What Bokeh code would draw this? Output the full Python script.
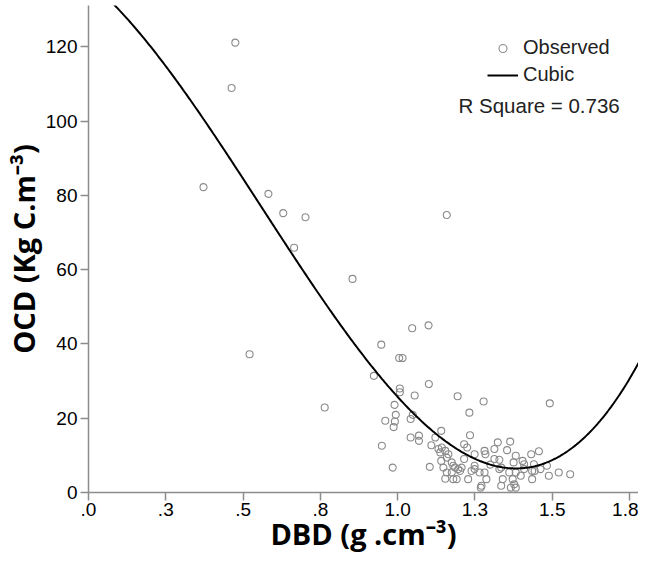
import numpy as np
from bokeh.plotting import figure
from bokeh.models import Range1d, FixedTicker, Legend, LegendItem, Label
from bokeh.embed import file_html
from bokeh.resources import INLINE

# Observed data (DBD g/cm3, OCD Kg C/m3)
dbd = [0.372, 0.463, 0.475, 0.521, 0.582, 0.630, 0.665, 0.702, 0.764, 0.854, 1.159,
       0.923, 0.947, 0.949, 0.960, 0.984, 0.987, 0.990, 0.991, 0.994, 1.005, 1.016,
       1.007, 1.007, 1.042, 1.042, 1.047, 1.100, 1.049, 1.055, 1.069, 1.069, 1.101,
       1.104, 1.109, 1.122, 1.141, 1.132, 1.138, 1.154, 1.164, 1.141, 1.148, 1.159,
       1.154, 1.180, 1.175, 1.180, 1.159, 1.175, 1.186, 1.196, 1.202, 1.191, 1.194,
       1.278, 1.232, 1.492, 1.234, 1.215, 1.225, 1.324, 1.364, 1.281, 1.284, 1.249,
       1.313, 1.354, 1.382, 1.432, 1.457, 1.329, 1.404, 1.409, 1.375, 1.228, 1.239,
       1.249, 1.265, 1.281, 1.287, 1.271, 1.329, 1.340, 1.335, 1.361, 1.372, 1.377,
       1.382, 1.398, 1.435, 1.441, 1.462, 1.483, 1.489, 1.521, 1.558, 1.435, 1.366,
       1.382, 1.269, 1.207, 1.249, 1.313, 1.335, 1.409, 1.443, 1.143, 1.215, 1.300]
ocd = [82.2, 108.9, 121.1, 37.2, 80.4, 75.2, 65.9, 74.1, 22.9, 57.5, 74.7,
       31.4, 39.8, 12.6, 19.3, 6.7, 17.6, 23.6, 19.1, 20.9, 36.2, 36.2,
       28.0, 27.0, 19.8, 14.8, 44.2, 45.0, 20.9, 26.1, 15.3, 13.9, 29.2,
       6.9, 12.7, 14.8, 16.6, 11.7, 10.8, 11.2, 10.3, 8.5, 6.7, 5.4,
       3.7, 7.2, 5.4, 3.6, 9.4, 8.1, 6.7, 6.3, 5.8, 3.6, 25.9,
       24.5, 21.5, 24.0, 15.4, 13.0, 12.1, 13.5, 13.7, 11.2, 10.3, 10.3,
       11.7, 11.4, 9.9, 10.3, 11.1, 8.8, 8.5, 7.6, 8.1, 3.6, 5.8,
       7.2, 5.4, 5.4, 3.6, 1.8, 6.3, 3.6, 1.8, 5.4, 3.6, 2.2,
       5.4, 4.5, 5.8, 7.6, 6.3, 7.2, 4.5, 5.4, 4.9, 3.6, 1.3,
       1.3, 1.3, 6.7, 6.3, 9.0, 6.7, 6.3, 5.8, 12.1, 9.0, 7.5]

# Cubic model coefficients: b0 + b1*x + b2*x^2 + b3*x^3
cubic_coef = [137.78, -69.72, -105.21, 62.89]
r_square = 0.736

x_ticks = [0.0, 0.25, 0.5, 0.75, 1.0, 1.25, 1.5, 1.75]
x_tick_labels = [".0", ".3", ".5", ".8", "1.0", "1.3", "1.5", "1.8"]
y_ticks = [0, 20, 40, 60, 80, 100, 120]

X_MAX = 1.779
Y_MAX = 131.1

p = figure(width=638, height=555, output_backend="svg", toolbar_location=None,
           x_range=Range1d(0, X_MAX), y_range=Range1d(0, Y_MAX),
           min_border_left=80, min_border_right=0, min_border_top=5, min_border_bottom=40)
p.outline_line_color = None
p.grid.visible = False
p.background_fill_color = "white"
p.border_fill_color = "white"

xs = np.linspace(0, X_MAX, 400)
ys = sum(c * xs ** i for i, c in enumerate(cubic_coef))

sc = p.scatter(dbd, ocd, marker="circle", size=7, fill_color=None,
               line_color="#8a8a8a", line_width=1.1)
ln = p.line(xs, ys, line_color="black", line_width=2)

for ax in (p.xaxis, p.yaxis):
    ax.axis_line_color = "#8c8c8c"
    ax.axis_line_width = 1.5
    ax.major_tick_line_color = "#8c8c8c"
    ax.major_tick_line_width = 1.5
    ax.major_tick_out = 8
    ax.major_tick_in = 0
    ax.minor_tick_line_color = None
    ax.major_label_text_font = "Liberation Sans"
    ax.major_label_text_font_size = "19px"
    ax.major_label_text_color = "black"
    ax.axis_label_text_font = "Open Sans"
    ax.axis_label_text_font_style = "bold"
    ax.axis_label_text_font_size = "29px"
    ax.axis_label_text_color = "black"

p.xaxis.ticker = FixedTicker(ticks=x_ticks)
p.xaxis.major_label_overrides = {t: l for t, l in zip(x_ticks, x_tick_labels)}
p.yaxis.ticker = FixedTicker(ticks=y_ticks)
p.xaxis.major_label_standoff = 2
p.yaxis.major_label_standoff = 3
p.xaxis.axis_label = "DBD (g .cm\u207b\u00b3)"
p.yaxis.axis_label = "OCD (Kg C.m\u207b\u00b3)"
p.xaxis.axis_label_standoff = -5
p.yaxis.axis_label_standoff = 0

legend = Legend(items=[LegendItem(label="Observed", renderers=[sc]),
                       LegendItem(label="Cubic", renderers=[ln])],
                location=(399, 406), padding=0, margin=0, spacing=4,
                glyph_width=31, glyph_height=20, label_standoff=5,
                label_text_font="Liberation Sans", label_text_font_size="20px",
                label_text_color="#222222",
                border_line_color=None, background_fill_alpha=0)
p.add_layout(legend, "center")

p.add_layout(Label(x=370, y=387, x_units="screen", y_units="screen",
                   text=f"R Square = {r_square}", text_font="Liberation Sans",
                   text_font_size="20.5px", text_color="#222222",
                   text_baseline="middle"))

open("out.html", "w").write(file_html(p, INLINE))
